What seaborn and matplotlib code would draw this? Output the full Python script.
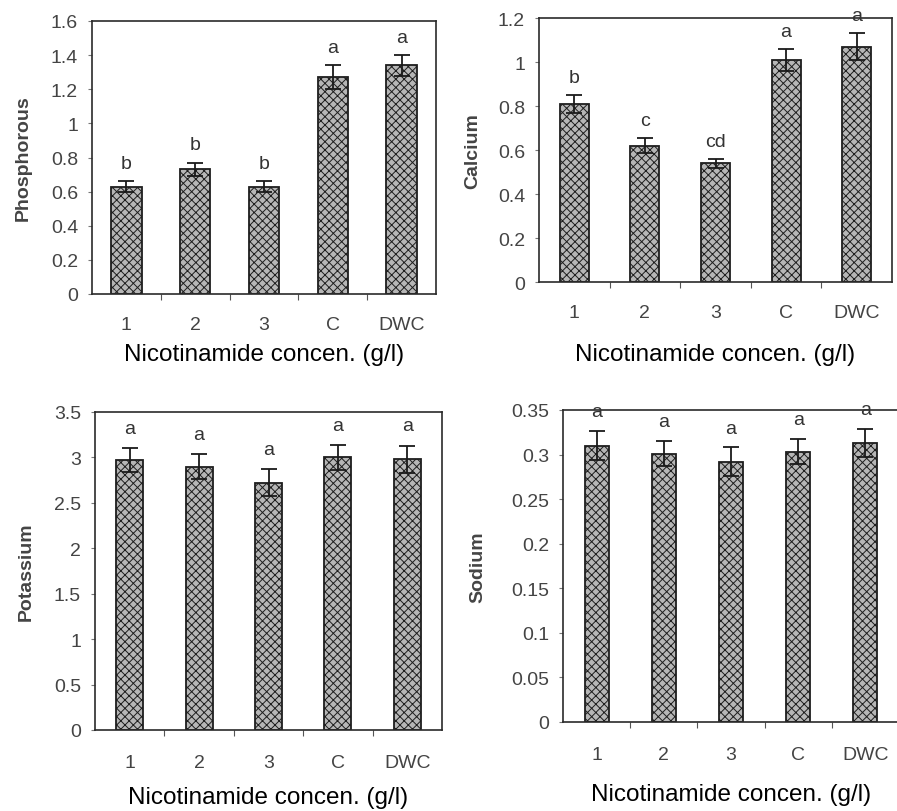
import matplotlib
matplotlib.use("Agg")
import matplotlib.pyplot as plt
import seaborn as sns
import pandas as pd

sns.set_style("white")
plt.rcParams['font.family'] = ['Liberation Sans', 'DejaVu Sans']
plt.rcParams['hatch.color'] = '#959595'
plt.rcParams['hatch.linewidth'] = 0.7

treatments = ['1', '2', '3', 'C', 'DWC']

phosphorous = [0.63, 0.73, 0.63, 1.27, 1.34]
phosphorous_err = [0.03, 0.04, 0.03, 0.07, 0.06]
phosphorous_letters = ['b', 'b', 'b', 'a', 'a']

calcium = [0.81, 0.62, 0.54, 1.01, 1.07]
calcium_err = [0.04, 0.035, 0.02, 0.05, 0.06]
calcium_letters = ['b', 'c', 'cd', 'a', 'a']

potassium = [2.97, 2.90, 2.72, 3.00, 2.98]
potassium_err = [0.13, 0.14, 0.15, 0.14, 0.15]
potassium_letters = ['a', 'a', 'a', 'a', 'a']

sodium = [0.310, 0.301, 0.292, 0.303, 0.313]
sodium_err = [0.016, 0.014, 0.016, 0.014, 0.016]
sodium_letters = ['a', 'a', 'a', 'a', 'a']

xlabel = 'Nicotinamide concen. (g/l)'

W, H = 897, 812
fig = plt.figure(figsize=(W / 100, H / 100), dpi=100)


def px_axes(left, top, right, bottom):
    return fig.add_axes([left / W, 1 - bottom / H, (right - left) / W, (bottom - top) / H])


panels = [
    # (box in pixels, values, errors, letters, ylabel, ymax, step, bar width, tick pad, ylabel pad, xlabel y)
    ((92, 22, 436, 295), phosphorous, phosphorous_err, phosphorous_letters, 'Phosphorous', 1.6, 0.2, 0.44, 16, 14, 355),
    ((539, 19, 892, 283), calcium, calcium_err, calcium_letters, 'Calcium', 1.2, 0.2, 0.41, 16, 12, 355),
    ((95, 413, 442, 731), potassium, potassium_err, potassium_letters, 'Potassium', 3.5, 0.5, 0.39, 17, 14, 798),
    ((563, 411, 899, 723), sodium, sodium_err, sodium_letters, 'Sodium', 0.35, 0.05, 0.36, 17, 18, 795),
]

for box, vals, errs, letters, ylab, ymax, step, bw, pad, ylpad, xl_y in panels:
    ax = px_axes(*box)
    df = pd.DataFrame({'treatment': treatments, 'value': vals})
    sns.barplot(data=df, x='treatment', y='value', ax=ax, color='#b6b6b6',
                width=bw, edgecolor='#1e1e1e', linewidth=1.3, errorbar=None,
                saturation=1)
    for p in ax.patches:
        p.set_hatch('xxxx')
    xs = list(range(len(treatments)))
    ax.errorbar(xs, vals, yerr=errs, fmt='none', ecolor='#1a1a1a',
                elinewidth=1.3, capsize=6, capthick=1.3)
    for x, v, e, lt in zip(xs, vals, errs, letters):
        ax.text(x, v + e + ymax * 0.035, lt, ha='center', va='bottom',
                fontsize=14, color='#333333')
    ax.set_xlim(-0.5, len(treatments) - 0.5)
    ax.set_ylim(0, ymax)
    ticks = [round(i * step, 3) for i in range(int(round(ymax / step)) + 1)]
    ax.set_yticks(ticks)
    ax.set_yticklabels([f'{t:g}' for t in ticks], fontsize=14, color='#444444')
    ax.set_xticks(xs)
    ax.set_xticklabels(treatments, fontsize=14, color='#444444')
    ax.set_xticks([x + 0.5 for x in xs[:-1]], minor=True)
    ax.tick_params(axis='x', which='major', length=0, pad=pad)
    ax.tick_params(axis='x', which='minor', length=4, width=0.8, color='#555555', direction='out', bottom=True)
    ax.tick_params(axis='y', which='major', length=3, width=0.8, color='#777777', direction='out', left=True, pad=7)
    ax.set_xlabel('')
    ax.set_ylabel(ylab, fontsize=14, fontweight='bold', color='#444444', labelpad=ylpad)
    for s in ax.spines.values():
        s.set_visible(True)
        s.set_color('#2a2a2a')
        s.set_linewidth(1.2)
    cx = (box[0] + box[2]) / 2 / W
    fig.text(cx, 1 - xl_y / H, xlabel, ha='center', va='center', fontsize=17.5, color='black')

fig.savefig('out.png', dpi=100)
